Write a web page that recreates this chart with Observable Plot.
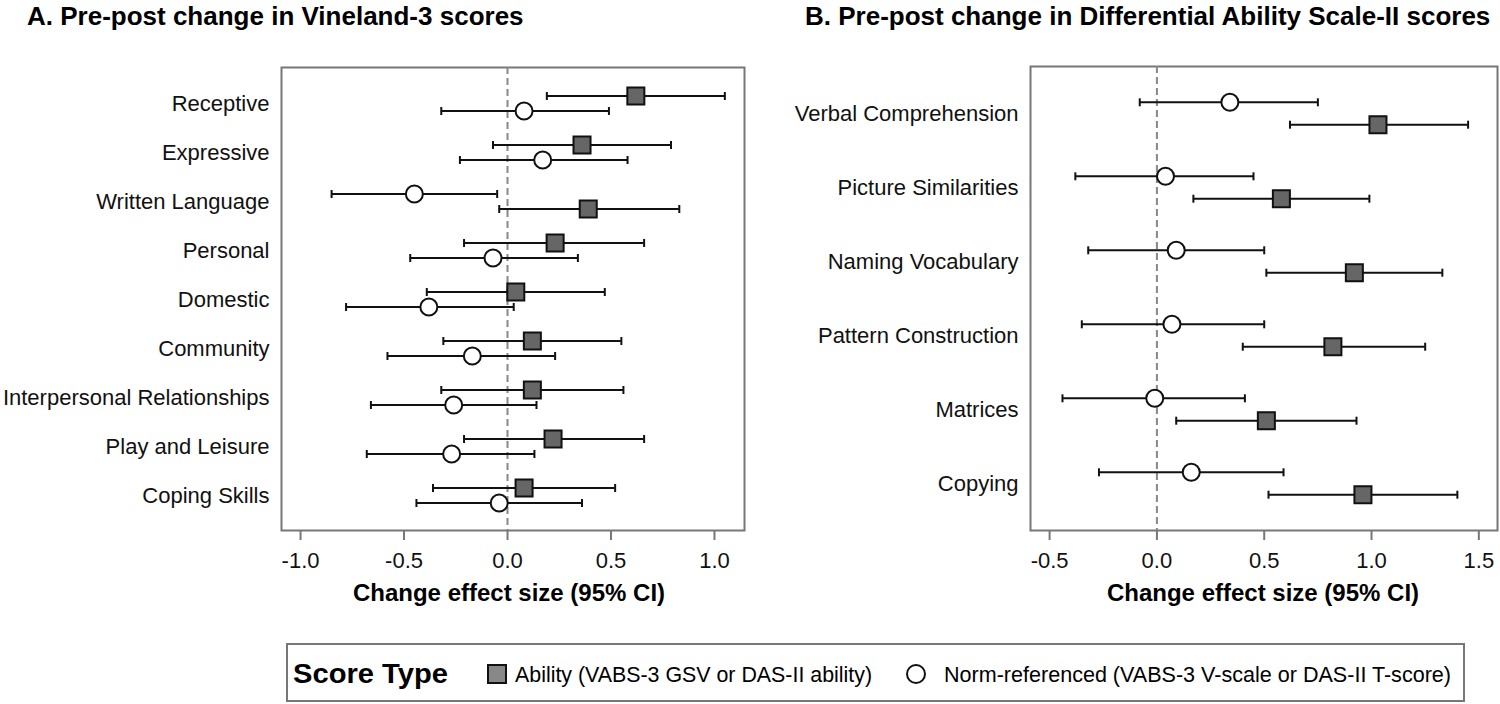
<!DOCTYPE html>
<html>
<head>
<meta charset="utf-8">
<script src="https://cdn.jsdelivr.net/npm/d3@7"></script>
<script src="https://cdn.jsdelivr.net/npm/@observablehq/plot@0.6"></script>
<style>
  html, body { margin: 0; padding: 0; background: #fff; }
  #root { position: relative; width: 1500px; height: 704px; overflow: hidden; background: #fff;
          font-family: "Liberation Sans", Arial, sans-serif; }
  #root svg.panel { position: absolute; top: 0; }
  #overlay { position: absolute; left: 0; top: 0; pointer-events: none; }
</style>
</head>
<body>
<div id="root"></div>
<script>
// ---------- Data ----------
const scoreTypes = ["Ability", "Norm"];
const legendLabels = ["Ability (VABS-3 GSV or DAS-II ability)", "Norm-referenced (VABS-3 V-scale or DAS-II T-score)"];

// Panel A: Vineland-3
const vinelandDomains = ["Receptive", "Expressive", "Written Language", "Personal", "Domestic",
  "Community", "Interpersonal Relationships", "Play and Leisure", "Coping Skills"];
const vinelandAbilityEst = [0.62, 0.36, 0.39, 0.23, 0.04, 0.12, 0.12, 0.22, 0.08];
const vinelandAbilityLo  = [0.19, -0.07, -0.04, -0.21, -0.39, -0.31, -0.32, -0.21, -0.36];
const vinelandAbilityHi  = [1.05, 0.79, 0.83, 0.66, 0.47, 0.55, 0.56, 0.66, 0.52];
const vinelandNormEst = [0.08, 0.17, -0.45, -0.07, -0.38, -0.17, -0.26, -0.27, -0.04];
const vinelandNormLo  = [-0.32, -0.23, -0.85, -0.47, -0.78, -0.58, -0.66, -0.68, -0.44];
const vinelandNormHi  = [0.49, 0.58, -0.05, 0.34, 0.03, 0.23, 0.14, 0.13, 0.36];
// which score type is drawn in the upper slot of each domain row
const vinelandUpper = ["Ability", "Ability", "Norm", "Ability", "Ability", "Ability", "Ability", "Ability", "Ability"];
const vinelandTicks = [-1.0, -0.5, 0.0, 0.5, 1.0];

// Panel B: DAS-II
const dasDomains = ["Verbal Comprehension", "Picture Similarities", "Naming Vocabulary",
  "Pattern Construction", "Matrices", "Copying"];
const dasAbilityEst = [1.03, 0.58, 0.92, 0.82, 0.51, 0.96];
const dasAbilityLo  = [0.62, 0.17, 0.51, 0.40, 0.09, 0.52];
const dasAbilityHi  = [1.45, 0.99, 1.33, 1.25, 0.93, 1.40];
const dasNormEst = [0.34, 0.04, 0.09, 0.07, -0.01, 0.16];
const dasNormLo  = [-0.08, -0.38, -0.32, -0.35, -0.44, -0.27];
const dasNormHi  = [0.75, 0.45, 0.50, 0.50, 0.41, 0.59];
const dasUpper = ["Norm", "Norm", "Norm", "Norm", "Norm", "Norm"];
const dasTicks = [-0.5, 0.0, 0.5, 1.0, 1.5];

const titles = ["A. Pre-post change in Vineland-3 scores", "B. Pre-post change in Differential Ability Scale-II scores"];
const axisTitle = "Change effect size (95% CI)";
const legendTitle = "Score Type";

// ---------- Build ----------
function rows(domains, aEst, aLo, aHi, nEst, nLo, nHi, upper) {
  const out = [];
  domains.forEach((d, i) => {
    out.push({domain: d, type: "Ability", est: aEst[i], lo: aLo[i], hi: aHi[i], slot: upper[i] === "Ability" ? "upper" : "lower"});
    out.push({domain: d, type: "Norm", est: nEst[i], lo: nLo[i], hi: nHi[i], slot: upper[i] === "Norm" ? "upper" : "lower"});
  });
  return out;
}

const capSymbol = {
  draw(context, size) {
    const h = Math.sqrt(size / Math.PI);
    context.moveTo(0, -h);
    context.lineTo(0, h);
  }
};

function panel({data, domains, xDomain, ticks, padding, offset, marginLeft, marginRight, marginTop}) {
  const marks = [Plot.frame({stroke: "#777", strokeWidth: 2})];
  marks.push(Plot.ruleX([0], {stroke: "#888", strokeWidth: 2, strokeDasharray: "7,4"}));
  for (const [slot, dy] of [["upper", -offset], ["lower", offset]]) {
    const g = data.filter(r => r.slot === slot);
    marks.push(Plot.ruleY(g, {y: "domain", x1: "lo", x2: "hi", stroke: "#111", strokeWidth: 2, dy}));
    marks.push(Plot.dot(g, {x: "lo", y: "domain", symbol: capSymbol, r: 4, stroke: "#111", strokeWidth: 2, fill: "none", dy}));
    marks.push(Plot.dot(g, {x: "hi", y: "domain", symbol: capSymbol, r: 4, stroke: "#111", strokeWidth: 2, fill: "none", dy}));
    marks.push(Plot.dot(g.filter(r => r.type === "Ability"), {x: "est", y: "domain", symbol: "square", r: 9.6, fill: "#666", stroke: "#111", strokeWidth: 2, dy}));
    marks.push(Plot.dot(g.filter(r => r.type === "Norm"), {x: "est", y: "domain", symbol: "circle", r: 8.5, fill: "#fff", stroke: "#111", strokeWidth: 2, dy}));
  }
  marks.push(Plot.axisY({tickSize: 0, tickPadding: 12, fontSize: 22, label: null, fill: "#111"}));
  marks.push(Plot.axisX({ticks, tickFormat: d => d.toFixed(1), tickSize: 10, tickPadding: 12, fontSize: 22,
    stroke: "#777", strokeWidth: 2, fill: "#111", label: null}));
  const svg = Plot.plot({
    width: 750, height: 620,
    marginLeft, marginRight, marginTop, marginBottom: 90,
    x: {domain: xDomain},
    y: {type: "point", domain: domains, padding},
    style: {fontFamily: "'Liberation Sans', Arial, sans-serif", fontSize: "22px", background: "transparent", color: "#111", overflow: "visible"},
    marks
  });
  svg.classList.add("panel");
  return svg;
}

const root = document.getElementById("root");

const left = panel({
  data: rows(vinelandDomains, vinelandAbilityEst, vinelandAbilityLo, vinelandAbilityHi, vinelandNormEst, vinelandNormLo, vinelandNormHi, vinelandUpper),
  domains: vinelandDomains, xDomain: [-1.092, 1.145], ticks: vinelandTicks, padding: 0.65, offset: 7.5,
  marginLeft: 281, marginRight: 6, marginTop: 67
});
left.style.left = "0px";
root.appendChild(left);

const right = panel({
  data: rows(dasDomains, dasAbilityEst, dasAbilityLo, dasAbilityHi, dasNormEst, dasNormLo, dasNormHi, dasUpper),
  domains: dasDomains, xDomain: [-0.589, 1.587], ticks: dasTicks, padding: 0.6, offset: 11.2,
  marginLeft: 280, marginRight: 3, marginTop: 66
});
right.style.left = "750px";
root.appendChild(right);

// ---------- Overlay: titles, axis titles, legend ----------
const NS = "http://www.w3.org/2000/svg";
const ov = document.createElementNS(NS, "svg");
ov.setAttribute("id", "overlay");
ov.setAttribute("width", 1500);
ov.setAttribute("height", 704);
root.appendChild(ov);
function el(tag, attrs, text) {
  const e = document.createElementNS(NS, tag);
  for (const k in attrs) e.setAttribute(k, attrs[k]);
  if (text != null) e.textContent = text;
  ov.appendChild(e);
  return e;
}
const ff = "'Liberation Sans', Arial, sans-serif";
el("text", {x: 27, y: 25, "font-family": ff, "font-size": 26, "font-weight": "bold", fill: "#000"}, titles[0]);
el("text", {x: 805, y: 25, "font-family": ff, "font-size": 26, "font-weight": "bold", fill: "#000"}, titles[1]);
el("text", {x: 509, y: 601, "text-anchor": "middle", "font-family": ff, "font-size": 24, "font-weight": "bold", fill: "#000"}, axisTitle);
el("text", {x: 1263, y: 601, "text-anchor": "middle", "font-family": ff, "font-size": 24, "font-weight": "bold", fill: "#000"}, axisTitle);

// legend box
el("rect", {x: 287, y: 644, width: 1177, height: 57, fill: "#fff", stroke: "#777", "stroke-width": 2});
el("text", {x: 293, y: 683, "font-family": ff, "font-size": 28, "font-weight": "bold", fill: "#000", textLength: 155, lengthAdjust: "spacingAndGlyphs"}, legendTitle);
el("rect", {x: 488, y: 665, width: 18, height: 18, fill: "#888", stroke: "#111", "stroke-width": 2});
el("text", {x: 515, y: 682, "font-family": ff, "font-size": 22, fill: "#000", textLength: 357, lengthAdjust: "spacingAndGlyphs"}, legendLabels[0]);
el("circle", {cx: 916, cy: 674, r: 9, fill: "#fff", stroke: "#111", "stroke-width": 2});
el("text", {x: 944, y: 682, "font-family": ff, "font-size": 22, fill: "#000", textLength: 507, lengthAdjust: "spacingAndGlyphs"}, legendLabels[1]);
</script>
</body>
</html>
